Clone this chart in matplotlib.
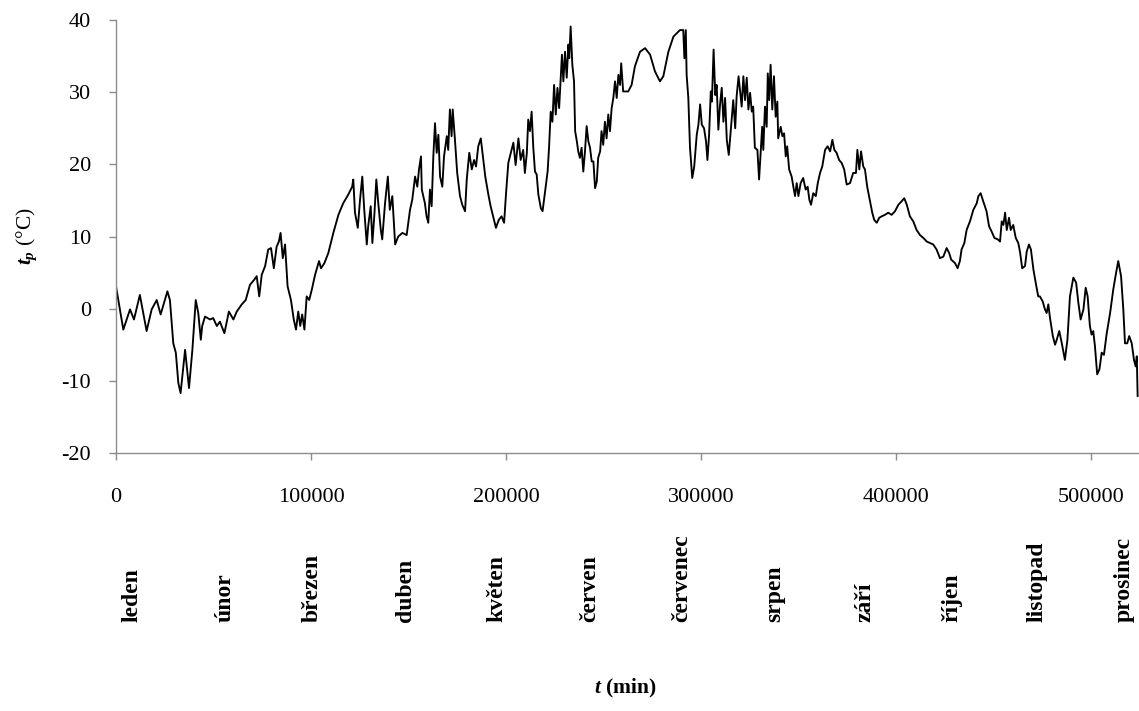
import numpy as np
import matplotlib
matplotlib.use("Agg")
import matplotlib.pyplot as plt

plt.rcParams["font.family"] = ["Liberation Serif", "DejaVu Serif"]
plt.rcParams["mathtext.fontset"] = "custom"
plt.rcParams["mathtext.rm"] = "Liberation Serif"
plt.rcParams["mathtext.it"] = "Liberation Serif:italic:bold"
plt.rcParams["mathtext.bf"] = "Liberation Serif:bold"

# Surface temperature over one year; time given in days, plotted in minutes
day = [
    0.0, 2.6, 5.0, 6.4, 8.5, 10.9, 12.7, 14.5, 15.9, 18.3, 19.2, 20.4, 21.3, 22.2, 23.0,
    24.6, 26.0, 27.2, 28.4, 29.3, 30.2, 30.7, 31.7, 33.5, 34.6, 35.9, 37.0, 38.6, 40.2,
    41.8, 43.0, 44.8, 46.2, 47.7, 49.2, 50.1, 51.0, 51.9, 53.1, 54.2, 55.2, 56.2, 57.2,
    58.0, 58.6, 59.4, 60.2, 61.1, 62.3, 63.3, 64.1, 64.9, 65.6, 66.3, 67.1, 67.9, 68.8,
    69.7, 70.9, 72.3, 73.0, 74.2, 75.6, 77.4, 79.2, 80.9, 82.7, 84.1, 84.5, 85.1, 86.1,
    86.9, 87.7, 88.4, 89.3, 89.8, 90.7, 91.3, 92.0, 92.7, 93.4, 94.3, 94.8, 95.8, 96.8,
    97.5, 98.4, 99.4, 100.5, 102.0, 103.5, 104.7, 105.5, 106.5, 107.3, 107.9, 108.6,
    108.9, 110.0, 110.6, 111.2, 111.8, 112.4, 113.0, 113.6, 114.2, 114.8, 115.4, 116.2,
    116.8, 117.8, 118.3, 118.9, 119.5, 119.9, 120.7, 121.5, 122.5, 123.3, 124.3, 124.9,
    125.8, 126.7, 127.5, 128.2, 129.0, 129.9, 130.8, 131.5, 132.6, 133.4, 134.4, 135.3,
    136.3, 137.3, 138.2, 138.9, 139.7, 140.6, 141.5, 142.3, 143.3, 144.1, 145.0, 145.6,
    146.3, 146.8, 147.4, 148.0, 148.6, 149.2, 149.8, 150.4, 151.3, 151.9, 152.8, 153.7,
    154.2, 154.8, 155.4, 156.0, 156.6, 157.2, 157.8, 158.4, 158.8, 159.3, 159.9, 160.5,
    161.1, 161.4, 161.9, 162.5, 163.1, 163.5, 164.1, 164.6, 165.2, 165.8, 166.4, 167.0,
    167.6, 168.2, 168.8, 169.4, 170.0, 170.6, 171.2, 171.7, 172.4, 172.9, 173.5, 174.1,
    174.7, 175.3, 175.9, 176.5, 177.1, 177.7, 178.3, 178.9, 179.5, 179.9, 180.6, 182.4,
    183.6, 184.8, 186.6, 188.4, 190.2, 191.9, 193.7, 194.9, 196.7, 198.5, 200.8, 202.0,
    202.4, 202.9, 203.2, 203.8, 204.4, 205.2, 205.9, 206.8, 207.4, 208.0, 208.6, 209.4,
    210.1, 210.6, 211.2, 211.8, 212.2, 212.8, 213.4, 213.9, 214.5, 215.1, 215.7, 216.3,
    216.9, 217.5, 218.2, 218.9, 219.8, 220.5, 221.0, 221.7, 222.8, 223.4, 224.0, 224.6,
    225.2, 225.8, 226.4, 226.9, 227.5, 228.4, 229.0, 229.6, 230.1, 230.5, 231.1, 231.7,
    232.1, 232.6, 233.1, 233.7, 234.3, 234.9, 235.5, 235.8, 236.7, 237.3, 237.9, 238.5,
    239.0, 239.7, 240.6, 241.2, 241.8, 242.4, 243.0, 243.8, 244.7, 245.6, 246.3, 246.9,
    247.5, 248.3, 249.2, 249.9, 250.7, 251.5, 252.5, 253.4, 254.3, 255.1, 255.8, 256.6,
    257.5, 258.4, 259.3, 260.2, 261.4, 262.5, 263.5, 264.0, 264.7, 265.3, 266.1, 266.7,
    267.5, 268.5, 269.3, 270.0, 270.9, 271.8, 272.7, 273.8, 275.0, 276.2, 277.4, 278.6,
    279.8, 280.7, 281.6, 282.7, 283.9, 285.1, 286.3, 287.5, 288.7, 289.9, 291.0, 292.2,
    293.4, 294.6, 295.8, 296.7, 297.4, 298.8, 299.7, 300.5, 301.1, 302.1, 302.9, 304.1,
    305.3, 306.5, 307.1, 307.9, 308.8, 310.0, 310.9, 311.8, 312.8, 314.0, 314.8, 315.4,
    316.0, 316.6, 317.2, 318.0, 318.6, 319.5, 320.4, 321.3, 321.9, 322.7, 323.7, 324.3,
    325.1, 325.8, 326.7, 327.5, 328.4, 329.0, 330.0, 330.8, 331.4, 332.0, 332.6, 333.6,
    334.4, 335.0, 335.9, 336.8, 337.9, 338.8, 339.7, 340.9, 341.9, 342.7, 343.5, 344.5,
    345.3, 346.0, 346.8, 347.4, 348.0, 348.6, 349.4, 350.2, 351.0, 351.8, 352.8, 354.0,
    355.1, 356.1, 356.9, 357.9, 358.7, 359.3, 360.1, 360.8, 361.7, 362.5, 363.1, 363.5,
    363.8,
]

temp_c = [
    3.1, -2.9, -0.1, -1.5, 1.9, -3.1, -0.1, 1.2, -0.8, 2.4, 1.2, -4.8, -6.1, -10.3, -11.7,
    -5.7, -11.0, -5.7, 1.2, -0.6, -4.3, -2.4, -1.1, -1.5, -1.3, -2.4, -1.8, -3.4, -0.4,
    -1.5, -0.4, 0.6, 1.2, 3.3, 4.0, 4.5, 1.7, 4.7, 5.9, 8.2, 8.4, 5.6, 8.6,
    9.3, 10.5, 7.0, 8.9, 3.1, 1.2, -1.5, -2.9, -0.4, -2.4, -0.8, -2.9, 1.7, 1.2,
    2.6, 4.7, 6.6, 5.6, 6.3, 7.7, 10.5, 13.0, 14.6, 15.8, 16.9, 17.9, 13.3, 11.2,
    15.1, 18.3, 13.7, 8.9, 11.4, 14.2, 9.1, 13.0, 17.9, 14.6, 10.9, 9.6, 14.6, 18.3,
    13.7, 15.6, 8.9, 10.0, 10.5, 10.2, 13.7, 15.1, 18.3, 16.9, 19.3, 21.1,
    16.5, 14.6, 12.8, 11.9, 16.5, 14.2, 21.1, 25.7, 21.6, 24.1, 18.3, 16.9,
    21.1, 23.9, 22.0, 27.6, 23.9, 27.6, 23.4, 18.8, 15.6, 14.4, 13.5, 17.9,
    21.6, 19.3, 20.6, 19.7, 22.5, 23.6, 20.6, 18.3, 15.8, 14.2, 12.6, 11.2,
    12.3, 12.8, 11.9, 16.0, 20.2, 21.6, 23.0, 19.9, 23.6, 20.6, 22.0, 18.8,
    21.6, 26.2, 24.6, 27.3, 22.3, 19.0, 18.6, 15.8, 13.9, 13.5, 16.2, 19.0,
    22.3, 27.3, 25.9, 31.0, 26.9, 30.6, 27.8, 32.4, 35.2, 31.5, 35.6, 32.0,
    36.6, 34.7, 39.1, 33.8, 31.5, 24.6, 23.2, 21.8, 20.9, 22.3, 19.0, 21.8,
    25.3, 23.2, 22.3, 20.4, 20.4, 16.7, 17.6, 20.9, 21.8, 24.6, 22.7, 25.9,
    23.6, 26.9, 24.6, 27.8, 29.2, 31.5, 29.2, 32.4, 31.0, 34.0, 30.1, 30.1,
    31.0, 33.6, 35.6, 36.1, 35.2, 32.9, 31.5, 32.2, 35.6, 37.7, 38.6, 38.6,
    34.7, 38.6, 32.4, 29.2, 22.3, 18.1, 19.7, 24.1, 25.5, 28.3, 25.5, 25.0,
    23.2, 20.6, 24.1, 30.1, 28.7, 35.9, 29.6, 31.0, 24.8, 28.3, 30.6, 25.9,
    29.2, 23.4, 21.3, 24.6, 28.9, 25.0, 29.4, 32.2, 28.0, 32.2, 28.9, 32.0,
    27.6, 29.9, 27.3, 28.0, 22.3, 22.0, 17.9, 22.0, 25.2, 22.0, 28.0, 25.2,
    32.6, 28.9, 33.8, 27.6, 32.2, 26.6, 28.7, 23.6, 25.2, 23.9, 24.3, 21.1,
    22.5, 19.3, 18.3, 16.9, 15.6, 17.4, 15.6, 17.4, 18.1, 16.5, 16.9, 15.1,
    14.4, 16.0, 15.6, 17.4, 18.8, 19.7, 22.0, 22.5, 21.8, 23.4, 22.0, 21.6,
    20.6, 20.2, 19.3, 17.2, 17.4, 18.8, 18.8, 22.0, 19.3, 21.8, 19.7, 19.3,
    16.9, 14.9, 13.3, 12.3, 11.9, 12.6, 12.8, 13.0, 13.3, 13.0, 13.5, 14.4,
    14.9, 15.3, 14.4, 12.8, 12.1, 10.9, 10.2, 9.8, 9.3, 9.1, 8.9, 8.2,
    7.0, 7.2, 8.4, 7.7, 6.8, 6.3, 5.6, 6.6, 8.2, 9.1, 10.9, 12.1,
    13.7, 14.6, 15.6, 16.0, 14.9, 13.5, 11.4, 10.7, 9.8, 9.6, 9.3, 12.1,
    11.6, 13.3, 10.9, 12.6, 10.9, 11.6, 9.8, 9.1, 7.9, 5.6, 5.9, 7.9,
    8.9, 8.2, 5.4, 3.6, 1.7, 1.7, 1.0, -0.1, -0.6, 0.6, -1.3, -3.8,
    -5.0, -4.3, -3.1, -4.8, -7.1, -4.3, 1.7, 4.3, 3.6, 0.8, -1.5, -0.1,
    2.9, 1.7, -2.4, -3.6, -3.1, -5.2, -9.1, -8.4, -6.1, -6.4, -3.4, -0.6,
    2.6, 4.9, 6.6, 4.5, -0.1, -4.8, -4.8, -3.8, -4.8, -7.1, -8.0, -6.6,
    -12.1,
]

x_ticks = [0, 100000, 200000, 300000, 400000, 500000]
y_ticks = [-20, -10, 0, 10, 20, 30, 40]
month_names = ["leden", "únor", "březen", "duben", "květen", "červen",
               "červenec", "srpen", "září", "říjen", "listopad", "prosinec"]

minutes = np.array(day) * 1440.0

W, H = 1139, 711
fig = plt.figure(figsize=(W / 100, H / 100), dpi=100)
fig.patch.set_facecolor("white")

ax_left, ax_right, ax_top, ax_bottom = 116, 1141, 20, 453
ax = fig.add_axes([ax_left / W, 1 - ax_bottom / H,
                   (ax_right - ax_left) / W, (ax_bottom - ax_top) / H])

ax.plot(minutes, temp_c, color="black", lw=1.35, solid_joinstyle="round")

ax.set_xlim(0, 525600)
ax.set_ylim(-20, 40)
ax.set_xticks(x_ticks)
ax.set_xticklabels([str(v) for v in x_ticks])
ax.set_yticks(y_ticks)
ax.set_yticklabels([str(v) for v in y_ticks])

for side in ("top", "right"):
    ax.spines[side].set_visible(False)
axis_grey = "#8c8c8c"
for side in ("left", "bottom"):
    ax.spines[side].set_color(axis_grey)
    ax.spines[side].set_linewidth(1.0)
ax.tick_params(axis="both", colors=axis_grey, labelcolor="black",
               labelsize=16, length=5, width=1.0, direction="out")
ax.tick_params(axis="x", pad=20)
ax.tick_params(axis="y", pad=13)

# Month names under the time axis
month_x = [132, 225, 312, 405, 497, 590, 682, 775, 865, 952, 1037, 1124]
for name, px in zip(month_names, month_x):
    fig.text(px / W, 1 - 622 / H, name, rotation=90, ha="center", va="bottom",
             fontsize=17, fontweight="bold")

fig.text(625 / W, 1 - 688 / H, r"$t$ (min)", ha="center", va="center",
         fontsize=15.5, fontweight="bold")
fig.text(27 / W, 1 - 236 / H, r"$t_p$ (°C)", ha="center", va="center",
         rotation=90, fontsize=15.5)

fig.savefig("out.png", dpi=100, facecolor="white")
